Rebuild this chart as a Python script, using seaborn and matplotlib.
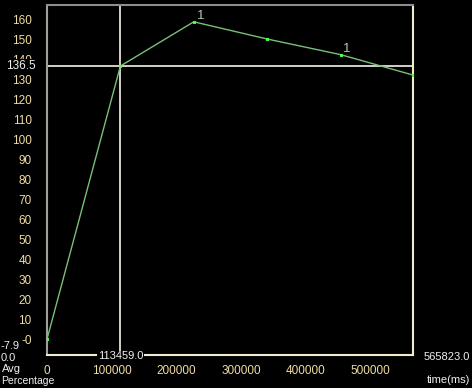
import pandas as pd
import matplotlib
matplotlib.use("Agg")
import matplotlib.pyplot as plt
import seaborn as sns

# data
time_ms = [0, 113459, 226918, 340377, 453836, 565823]
avg_pct = [0.0, 136.5, 158.6, 150.0, 142.2, 132.0]
point_labels = ["", "", "1", "", "1", ""]
cursor_x = 113459.0
cursor_y = 136.5
y_min, y_max = -7.9, 167.0
x_ticks = [0, 100000, 200000, 300000, 400000, 500000]
y_ticks = list(range(0, 170, 10))
y_ticklabels = ["-0"] + [str(v) for v in y_ticks[1:]]

sns.set_style("dark", {"axes.facecolor": "black", "figure.facecolor": "black"})
plt.rcParams["font.family"] = ["Liberation Sans", "DejaVu Sans"]
plt.rcParams["font.size"] = 8.5

df = pd.DataFrame({"time": time_ms, "avg": avg_pct})

fig = plt.figure(figsize=(4.72, 3.88), dpi=100)
ax = fig.add_axes([47 / 472, 33 / 388, 366 / 472, 350 / 388])

sns.lineplot(data=df, x="time", y="avg", ax=ax, color="#78c078", linewidth=1.0,
             marker="s", markersize=2, markerfacecolor="#4cff4c",
             markeredgecolor="#4cff4c", zorder=3)

for x, y, lab in zip(time_ms, avg_pct, point_labels):
    if lab:
        ax.annotate(lab, (x, y), xytext=(2, 2), textcoords="offset points",
                    color="#b0ccb0", fontsize=9.5)

ax.axvline(cursor_x, color="#f4f4e8", linewidth=1.2, zorder=2)
ax.axhline(cursor_y, color="#f4f4e8", linewidth=1.2, zorder=2)

ax.set_xlim(0, time_ms[-1])
ax.set_ylim(y_min, y_max)
ax.set_xticks(x_ticks)
ax.set_xticklabels([str(v) for v in x_ticks])
ax.set_yticks(y_ticks)
ax.set_yticklabels(y_ticklabels)
ax.set_xlabel("")
ax.set_ylabel("")
ax.grid(False)

tick_col = "#f0dca0"
ax.tick_params(axis="y", direction="in", length=6, width=1, color="#c8c8b8",
               labelcolor=tick_col, pad=11)
ax.tick_params(axis="x", direction="inout", length=14, width=1, color="#e8e0b8",
               labelcolor=tick_col, pad=0.5)

ax.spines["top"].set_color("#8c8c8c")
ax.spines["left"].set_color("#a0a098")
ax.spines["right"].set_color("#f0ecd0")
ax.spines["bottom"].set_color("#f0ecd0")
for s in ax.spines.values():
    s.set_linewidth(1.5)
    s.set_visible(True)

txt = "#f0f0f0"
box = dict(facecolor="black", edgecolor="none", pad=0.5)
fig.text(36 / 472, ax.transData.transform((0, cursor_y))[1] / 388, "136.5",
         ha="right", va="center", color=txt, bbox=box, fontsize=8.5)
ax.text(cursor_x, -0.004, "113459.0", transform=ax.get_xaxis_transform(),
        ha="center", va="center", color=txt, bbox=box, fontsize=8)

fig.text(0.5 / 472, 1 - 346 / 388, "-7.9", color=txt, va="center", fontsize=8)
fig.text(0.5 / 472, 1 - 358 / 388, "0.0", color=txt, va="center", fontsize=8)
fig.text(1.5 / 472, 1 - 369 / 388, "Avg", color=txt, va="center", fontsize=8)
fig.text(1.5 / 472, 1 - 381 / 388, "Percentage", color=txt, va="center", fontsize=7.5)
fig.text(470 / 472, 1 - 357 / 388, "565823.0", color=txt, ha="right", va="center", fontsize=8)
fig.text(470 / 472, 1 - 380 / 388, "time(ms)", color=txt, ha="right", va="center", fontsize=8)

fig.savefig("out.png", dpi=100, facecolor="black")
